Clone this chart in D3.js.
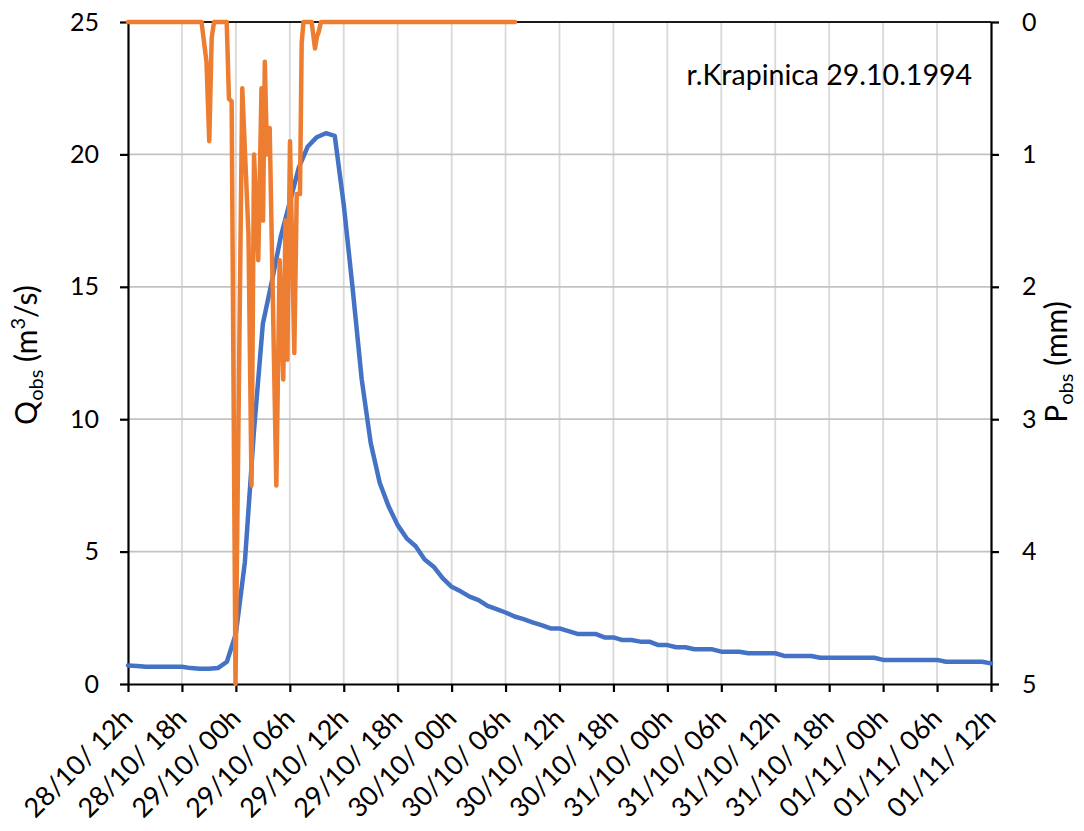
<!DOCTYPE html>
<html><head><meta charset="utf-8">
<script src="https://cdn.jsdelivr.net/npm/d3@7/dist/d3.min.js"></script>
<style>
body{margin:0;background:#fff}
svg{display:block}
text{font-family:Lato,"Open Sans",sans-serif;fill:#000}
</style>
</head><body>
<svg id="chart" width="1084" height="831"></svg>
<script>
// ---- data ----
const xTickHours = [0,6,12,18,24,30,36,42,48,54,60,66,72,78,84,90,96];
const xTickLabels = ["28/10/ 12h","28/10/ 18h","29/10/ 00h","29/10/ 06h","29/10/ 12h","29/10/ 18h",
  "30/10/ 00h","30/10/ 06h","30/10/ 12h","30/10/ 18h","31/10/ 00h","31/10/ 06h","31/10/ 12h",
  "31/10/ 18h","01/11/ 00h","01/11/ 06h","01/11/ 12h"];
const qTicks = [0,5,10,15,20,25];
const pTicks = [0,1,2,3,4,5];
// hourly discharge Q (m3/s), starting 28/10 12h
const qValues = [0.70,0.68,0.65,0.65,0.65,0.65,0.65,0.60,0.58,0.58,0.60,0.84,1.90,4.60,9.50,13.6,
  15.2,16.9,18.2,19.5,20.3,20.65,20.8,20.7,18.1,14.9,11.5,9.1,7.6,6.7,6.0,5.5,5.2,4.7,4.43,4.0,
  3.67,3.5,3.3,3.17,2.95,2.83,2.7,2.55,2.45,2.33,2.22,2.1,2.1,2.0,1.89,1.89,1.89,1.76,1.76,1.66,
  1.66,1.6,1.6,1.47,1.47,1.39,1.39,1.31,1.31,1.31,1.22,1.22,1.22,1.16,1.16,1.16,1.16,1.06,1.06,
  1.06,1.06,0.99,0.99,0.99,0.99,0.99,0.99,0.99,0.91,0.91,0.91,0.91,0.91,0.91,0.91,0.84,0.84,0.84,
  0.84,0.84,0.78];
// precipitation P (mm): time in hours since 28/10 12h, value
const pTimes = [0,8.18,8.73,9.04,9.31,9.57,10.98,11.23,11.53,11.96,12.71,13.40,13.74,14.02,14.49,
  14.85,15.02,15.22,15.46,15.76,16.50,16.87,17.27,17.52,17.72,18.02,18.50,18.77,19.13,19.32,19.52,
  20.43,20.80,21.02,21.19,21.47,43.05];
const pValues = [0,0,0.3,0.9,0.12,0,0,0.58,0.6,5.0,0.5,1.6,3.5,1.0,1.8,
  0.5,1.5,0.3,1.0,0.8,3.5,1.8,2.7,1.5,2.55,0.9,2.5,1.3,1.3,0.16,0,
  0,0.2,0.11,0.08,0,0];
const titleText = "r.Krapinica 29.10.1994";

// ---- layout ----
const L=128, R=991, T=22, B=684;
const svg = d3.select("#chart");
const x = d3.scaleLinear().domain([0,96]).range([L,R]);
const yQ = d3.scaleLinear().domain([0,25]).range([B,T]);
const yP = d3.scaleLinear().domain([0,5]).range([T,B]);

// gridlines
svg.append("g").selectAll("line").data(xTickHours.slice(1,-1)).join("line")
  .attr("x1",d=>x(d)).attr("x2",d=>x(d)).attr("y1",T).attr("y2",B)
  .attr("stroke","#d9d9d9").attr("stroke-width",1.8);
svg.append("g").selectAll("line").data(qTicks.slice(1,-1)).join("line")
  .attr("x1",L).attr("x2",R).attr("y1",d=>yQ(d)).attr("y2",d=>yQ(d))
  .attr("stroke","#c3c3c3").attr("stroke-width",1.8);
// top line
svg.append("line").attr("x1",L).attr("x2",R).attr("y1",T).attr("y2",T)
  .attr("stroke","#1a1a1a").attr("stroke-width",1.8);

// axes
const axL = svg.append("g").attr("transform",`translate(${L},0)`)
  .call(d3.axisLeft(yQ).tickValues(qTicks).tickFormat(d3.format("d")).tickSize(8).tickSizeOuter(0).tickPadding(21));
const axR = svg.append("g").attr("transform",`translate(${R},0)`)
  .call(d3.axisRight(yP).tickValues(pTicks).tickFormat(d3.format("d")).tickSize(8).tickSizeOuter(0).tickPadding(23));
const axB = svg.append("g").attr("transform",`translate(0,${B})`)
  .call(d3.axisBottom(x).tickValues(xTickHours).tickFormat((d,i)=>xTickLabels[i]).tickSize(8).tickSizeOuter(0));
[axL,axR,axB].forEach(a=>{
  a.select(".domain").attr("stroke","#000").attr("stroke-width",2.2);
  a.selectAll(".tick line").attr("stroke","#000").attr("stroke-width",2.2);
  a.selectAll("text").attr("font-family","Lato").attr("fill","#000");
});
axL.selectAll("text").attr("font-size",25);
axR.selectAll("text").attr("font-size",25);
axB.selectAll("text").attr("font-size",27).attr("x",0).attr("y",0).attr("dy",0)
  .attr("text-anchor","end").attr("transform","translate(6,36) rotate(-45)");

// series
const lineQ = d3.line().x((d,i)=>x(i)).y(d=>yQ(d));
svg.append("path").datum(qValues).attr("d",lineQ).attr("fill","none")
  .attr("stroke","#4472C4").attr("stroke-width",4.5).attr("stroke-linejoin","round").attr("stroke-linecap","round");
const lineP = d3.line().x((d,i)=>x(pTimes[i])).y(d=>yP(d));
svg.append("path").datum(pValues).attr("d",lineP).attr("fill","none")
  .attr("stroke","#ED7D31").attr("stroke-width",4.5).attr("stroke-linejoin","round").attr("stroke-linecap","round");

// title
svg.append("text").attr("x",972).attr("y",85).attr("text-anchor","end")
  .attr("font-size",28.5).text(titleText);

// axis titles
const qt = svg.append("text").attr("transform","translate(37,355) rotate(-90)")
  .attr("text-anchor","middle").attr("font-size",30);
qt.append("tspan").text("Q");
qt.append("tspan").attr("font-size",20).attr("dy",6).text("obs");
qt.append("tspan").attr("dy",-6).text(" (m");
qt.append("tspan").attr("font-size",20).attr("dy",-12).text("3");
qt.append("tspan").attr("dy",12).text("/s)");
const pt = svg.append("text").attr("transform","translate(1067,362) rotate(-90)")
  .attr("text-anchor","middle").attr("font-size",30);
pt.append("tspan").text("P");
pt.append("tspan").attr("font-size",20).attr("dy",6).text("obs");
pt.append("tspan").attr("dy",-6).text(" (mm)");
</script>
</body></html>
